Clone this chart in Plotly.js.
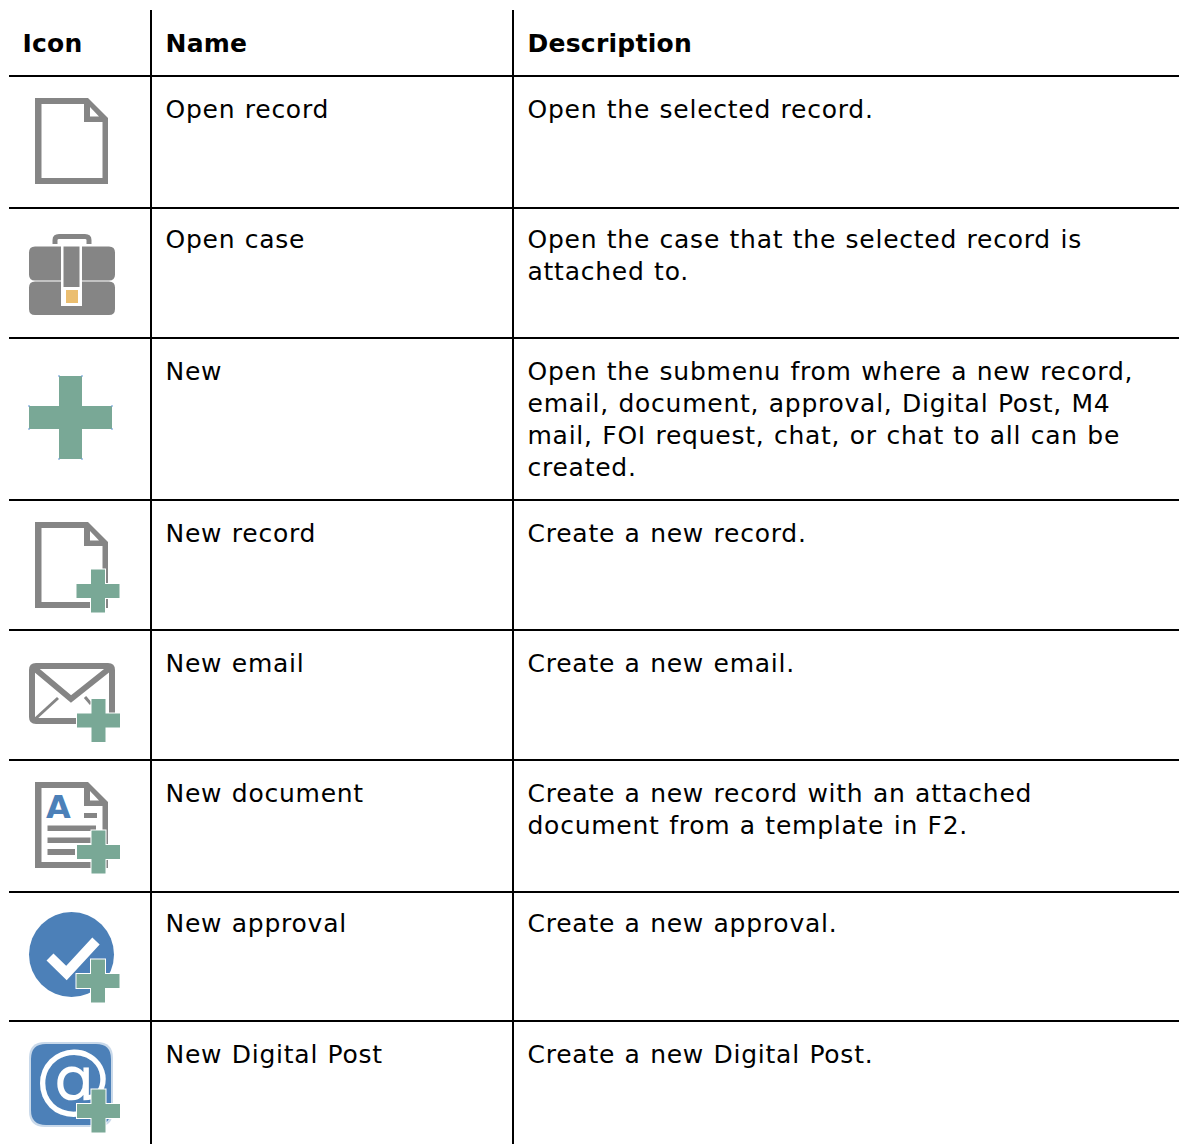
<!DOCTYPE html>
<html><head><meta charset="utf-8">
<script src="https://cdn.plot.ly/plotly-3.0.1.min.js"></script>
<style>html,body{margin:0;padding:0;background:#fff}#c{width:1179px;height:1144px}
.textpoint text{letter-spacing:.75px;word-spacing:.8px}
.textpoint text tspan[style*="bold"]{letter-spacing:.25px}
</style>
</head><body><div id="c"></div>
<script>
const headers = ["Icon", "Name", "Description"];
const headerX = [23, 166, 528];
const headerY = [44, 44, 44];
const names = ["Open record","Open case","New","New record","New email","New document","New approval","New Digital Post"];
const nameY = [110, 240, 372, 534, 664, 794, 924, 1055];
const descLines = ["Open the selected record.",
 "Open the case that the selected record is","attached to.",
 "Open the submenu from where a new record,","email, document, approval, Digital Post, M4","mail, FOI request, chat, or chat to all can be","created.",
 "Create a new record.","Create a new email.",
 "Create a new record with an attached","document from a template in F2.",
 "Create a new approval.","Create a new Digital Post."];
const descY = [110, 240, 272, 372, 404, 436, 468, 534, 664, 794, 826, 924, 1055];
const nameX = 166, descX = 528;
const rowRules = [76, 208, 338, 500, 630, 760, 892, 1021];
const colRules = [151, 513];
const GRAY = "#858585", GREEN = "#79A896", BLUE = "#4C80B8", ORANGE = "#EBBE70";
const FONT = "'DejaVu Sans', Verdana, sans-serif";
const SIZE = 25, XFIX = -0.5, YFIX = 2;

const shapes = [];
function P(path, fill, extra) {
  shapes.push(Object.assign({type:"path", xref:"x", yref:"y", path, fillcolor:fill, line:{width:0}, layer:"below"}, extra||{}));
}
function S(path, color, width, extra) {
  shapes.push(Object.assign({type:"path", xref:"x", yref:"y", path, fillcolor:"rgba(0,0,0,0)", line:{color, width}, layer:"below"}, extra||{}));
}
function R(x0,y0,x1,y1,fill,extra){
  P(`M${x0},${y0}L${x1},${y0}L${x1},${y1}L${x0},${y1}Z`, fill, extra);
}
function rr(x0,y0,x1,y1,r){
  return `M${x0+r},${y0}L${x1-r},${y0}Q${x1},${y0} ${x1},${y0+r}L${x1},${y1-r}Q${x1},${y1} ${x1-r},${y1}L${x0+r},${y1}Q${x0},${y1} ${x0},${y1-r}L${x0},${y0+r}Q${x0},${y0} ${x0+r},${y0}Z`;
}
function crossPath(cx,cy,L,W){
  return `M${cx-W},${cy-L}L${cx+W},${cy-L}L${cx+W},${cy-W}L${cx+L},${cy-W}L${cx+L},${cy+W}L${cx+W},${cy+W}L${cx+W},${cy+L}L${cx-W},${cy+L}L${cx-W},${cy+W}L${cx-L},${cy+W}L${cx-L},${cy-W}L${cx-W},${cy-W}Z`;
}
function plus(cx,cy){
  P(crossPath(cx,cy,22.5,8), "#ffffff", {layer:"above"});
  P(crossPath(cx,cy,21.5,7), GREEN, {layer:"above"});
}
function doc(dy){
  P(`M35,${98+dy}L88,${98+dy}L108,${118+dy}L108,${184+dy}L35,${184+dy}Z`, GRAY);
  P(`M41.5,${104+dy}L84,${104+dy}L84,${122+dy}L102.5,${122+dy}L102.5,${178+dy}L41.5,${178+dy}Z`, "#ffffff");
  P(`M90,${107+dy}L99,${116.5+dy}L90,${116.5+dy}Z`, "#ffffff");
}
// rules
rowRules.forEach(y=>shapes.push({type:"line",xref:"x",yref:"y",x0:9,x1:1179,y0:y,y1:y,line:{color:"#000",width:2},layer:"below"}));
colRules.forEach(x=>shapes.push({type:"line",xref:"x",yref:"y",x0:x,x1:x,y0:10,y1:1144,line:{color:"#000",width:2},layer:"below"}));
// 1 open record
doc(0);
// 2 open case
S("M55,244L55,240Q55,236.5 59,236.5L85,236.5Q89,236.5 89,240L89,244", GRAY, 5);
P(rr(29,246.5,115,280.5,6), GRAY);
P(rr(29,281.5,115,315,6), GRAY);
R(61,243,82,306,"#ffffff");
R(63.5,246.5,79.5,287,GRAY);
R(66,290,78,303,ORANGE);
// 3 new
P(crossPath(70.5,417.5,41.5,11.5), GREEN);
[[59,376],[82,376],[59,459],[82,459],[29,406],[29,429],[112,406],[112,429]].forEach(p=>{
  shapes.push({type:"circle",xref:"x",yref:"y",x0:p[0]-1,x1:p[0]+1,y0:p[1]-1,y1:p[1]+1,fillcolor:"#6F9FD8",opacity:.7,line:{width:0},layer:"below"});
});
// 4 new record
doc(424); plus(98,591);
// 5 new email
S(rr(32,666,112,721,4), GRAY, 6);
S("M34,668L71,699L110,668", GRAY, 6);
S("M34,720L58,698", GRAY, 3);
S("M85,697L91,704", GRAY, 3);
plus(98.5,720.5);
// 6 new document
doc(684);
R(84,813,97,818,GRAY); R(47.5,825.5,96,831,GRAY); R(47.5,837.5,91,843,GRAY); R(47.5,849,75,855,GRAY);
plus(98.5,852);
// 7 new approval
shapes.push({type:"circle",xref:"x",yref:"y",x0:29,x1:114,y0:912,y1:997,fillcolor:BLUE,line:{width:0},layer:"below"});
S("M50,957L66.5,973L96,941", "#ffffff", 10);
plus(98,981);
// 8 new digital post
P(rr(29,1042,113,1127,16), "#C9D9EA");
P(rr(31,1044,111,1125,15), BLUE);
plus(98.5,1111);

const base = {type:"scatter", mode:"text", hoverinfo:"skip", showlegend:false, cliponaxis:false, textposition:"middle right"};
const traces = [
 Object.assign({}, base, {x:headerX.map(v=>v+XFIX), y:headerY.map(v=>v+YFIX), text:headers.map(t=>`<b>${t}</b>`), textfont:{family:FONT,size:SIZE,color:"#000"}}),
 Object.assign({}, base, {x:names.map(()=>nameX+XFIX), y:nameY.map(v=>v+YFIX), text:names, textfont:{family:FONT,size:SIZE,color:"#000"}}),
 Object.assign({}, base, {x:descLines.map(()=>descX+XFIX), y:descY.map(v=>v+YFIX), text:descLines, textfont:{family:FONT,size:SIZE,color:"#000"}}),
 Object.assign({}, base, {x:[46], y:[810], text:["<b>A</b>"], textfont:{family:FONT,size:32,color:BLUE}}),
 Object.assign({}, base, {x:[35], y:[1085], text:["@"], textfont:{family:FONT,size:76,color:"#ffffff"}})
];
const layout = {
  width:1179, height:1144, margin:{l:0,r:0,t:0,b:0}, paper_bgcolor:"#fff", plot_bgcolor:"#fff",
  xaxis:{range:[0,1179],visible:false,fixedrange:true},
  yaxis:{range:[1144,0],visible:false,fixedrange:true},
  showlegend:false, hovermode:false, shapes
};
Plotly.newPlot("c", traces, layout, {displayModeBar:false, staticPlot:true});
</script></body></html>
